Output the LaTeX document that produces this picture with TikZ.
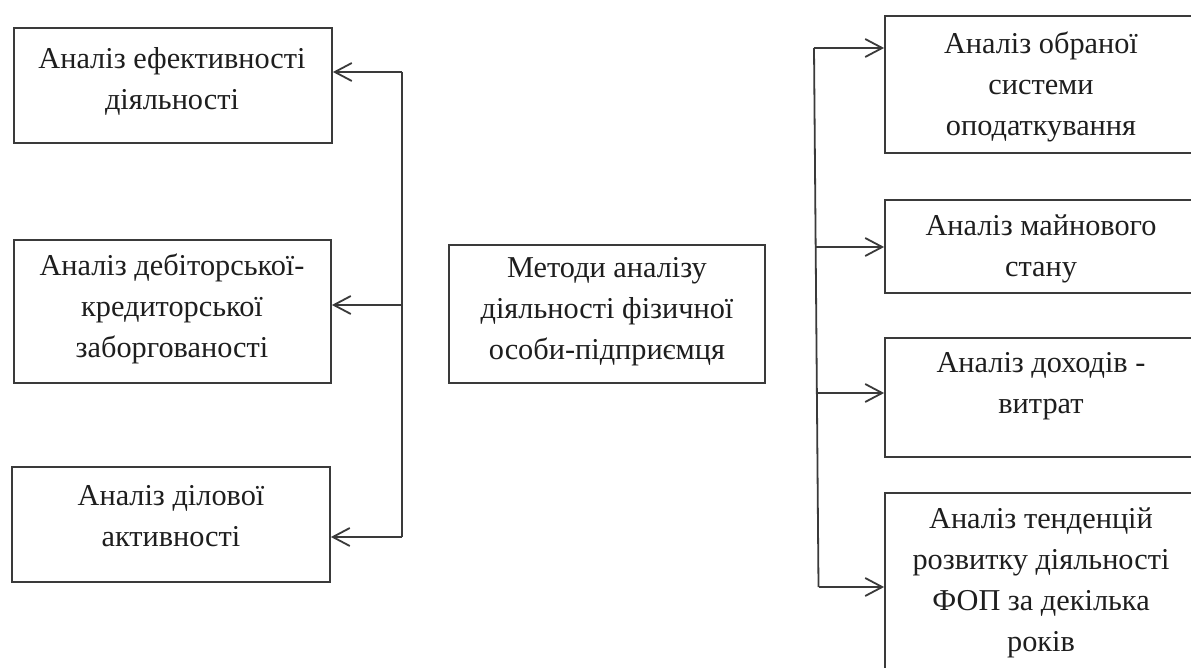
\documentclass[tikz,border=0pt]{standalone}
\usepackage{fontspec}
\setmainfont{Liberation Serif}
\usetikzlibrary{arrows.meta,calc}
\definecolor{linec}{HTML}{3A3A3A}
\definecolor{textc}{HTML}{1E1E1E}
\tikzset{
  box/.style={draw=linec, line width=1.8pt, rectangle, inner sep=0pt, fill=none},
  txt/.style={align=center, text=textc, inner sep=0pt, font=\fontsize{30.3}{41}\selectfont},
  conn/.style={draw=linec, line width=1.8pt},
  arr/.style={conn, -{Straight Barb[length=17pt,width=18pt,line width=1.8pt]}}
}
\begin{document}
\begin{tikzpicture}[x=1pt,y=-1pt]
\useasboundingbox (0,0) rectangle (1191,668);
\fill[white] (0,0) rectangle (1191,668);
\begin{scope}
\clip (0,0) rectangle (1191,668);
% left boxes
\node[box, minimum width=318pt, minimum height=115pt] (L1) at (173,85.5) {};
\node[txt] (L1t) at (172,81) {Аналіз ефективності\\діяльності};
\node[box, minimum width=317pt, minimum height=143pt] (L2) at (172.5,311.5) {};
\node[txt] (L2t) at (172,309) {Аналіз дебіторської-\\кредиторської\\заборгованості};
\node[box, minimum width=318pt, minimum height=115pt] (L3) at (171,524.5) {};
\node[txt] (L3t) at (171,516) {Аналіз ділової\\активності};
% centre box
\node[box, minimum width=316pt, minimum height=138pt] (C) at (607,314) {};
\node[txt] (Ct) at (607,312) {Методи аналізу\\діяльності фізичної\\особи-підприємця};
% right boxes
\node[box, minimum width=310pt, minimum height=137pt] (R1) at (1040,84.5) {};
\node[txt] (R1t) at (1041,87) {Аналіз обраної\\системи\\оподаткування};
\node[box, minimum width=310pt, minimum height=93pt] (R2) at (1040,246.5) {};
\node[txt] (R2t) at (1041,249) {Аналіз майнового\\стану};
\node[box, minimum width=310pt, minimum height=119pt] (R3) at (1040,397.5) {};
\node[txt] (R3t) at (1041,386) {Аналіз доходів -\\витрат};
\node[box, minimum width=310pt, minimum height=180pt] (R4) at (1040,583) {};
\node[txt] (R4t) at (1041,583) {Аналіз тенденцій\\розвитку діяльності\\ФОП за декілька\\років};
% left spine
\coordinate (ls1) at (402,72);
\coordinate (ls2) at (402,305);
\coordinate (ls3) at (402,537);
\draw[conn] (ls1) -- (ls3);
\draw[arr] (ls1) -- (L1.east |- ls1);
\draw[arr] (ls2) -- (L2.east |- ls2);
\draw[arr] (ls3) -- (L3.east |- ls3);
% right spine
\coordinate (rs1) at (814,48);
\coordinate (rs2) at (815.5,247);
\coordinate (rs3) at (816.5,393);
\coordinate (rs4) at (818.5,587);
\draw[conn] (rs1) -- (rs4);
\draw[arr] (rs1) -- (R1.west |- rs1);
\draw[arr] (rs2) -- (R2.west |- rs2);
\draw[arr] (rs3) -- (R3.west |- rs3);
\draw[arr] (rs4) -- (R4.west |- rs4);
\end{scope}
\end{tikzpicture}
\end{document}
